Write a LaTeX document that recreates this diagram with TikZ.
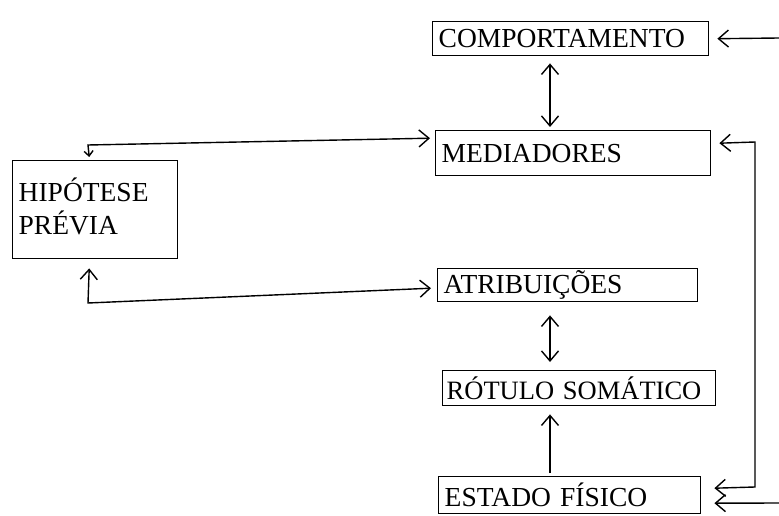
\documentclass[tikz,border=0pt]{standalone}
\usepackage{fontspec}
\setmainfont{Liberation Serif}
\usetikzlibrary{arrows.meta}

\begin{document}
\begin{tikzpicture}[x=1pt,y=-1pt,
  every node/.style={font=\fontsize{27.5}{33}\selectfont},
  caixa/.style={
    draw,
    line width=1.4pt,
    anchor=north west,
    align=left,
    inner xsep=6pt,
    inner ysep=0pt},
  seta/.style={line width=1.4pt,
    -{Straight Barb[length=10pt,width=17pt]}},
  seta2/.style={line width=1.4pt,
    {Straight Barb[length=10pt,width=17pt]}-{Straight Barb[length=10pt,width=17pt]}}
  ]
    \useasboundingbox (0,0) rectangle (779,516);
    % caixas
    \node[caixa, text width=264pt, minimum height=34pt] (comp) at (432,21) {COMPORTAMENTO};
    \node[caixa, text width=263pt, minimum height=45pt] (med) at (435,130) {MEDIADORES};
    \node[caixa, text width=248pt, minimum height=33pt] (atr) at (437,268) {ATRIBUIÇÕES};
    \node[caixa, text width=265pt, minimum height=35pt, inner xsep=4pt,
          font=\fontsize{26.5}{33}\selectfont] (rot) at (442,370) {RÓTULO SOMÁTICO};
    \node[caixa, text width=250pt, minimum height=37pt] (est) at (438,476) {ESTADO FÍSICO};
    \node[caixa, text width=153pt, minimum height=98pt, inner ysep=6pt,
          text depth=40pt] (hip) at (12,160) {HIPÓTESE\\PRÉVIA};
    % pontos auxiliares
    \coordinate (eixo) at (550,0);
    \coordinate (dir1) at (779,38);
    \coordinate (dir2) at (779,503);
    \coordinate (c1) at (88,145);
    \coordinate (c2) at (88,303);
    \coordinate (c3) at (755,142);
    \coordinate (c4) at (755,487);
    % setas verticais
    \draw[seta2, shorten <=7pt, shorten >=3pt] (comp.south -| eixo) -- (med.north -| eixo);
    \draw[seta2, shorten <=13pt, shorten >=8pt] (atr.south -| eixo) -- (rot.north -| eixo);
    \draw[seta, shorten <=3pt, shorten >=8pt] (est.north -| eixo) -- (rot.south -| eixo);
    % setas da direita
    \draw[seta] (dir1) -- ([xshift=8pt]comp.east);
    \draw[seta2] ([xshift=8pt,yshift=10pt]med.east) -- (c3) -- (c4) -- ([xshift=13pt,yshift=7pt]est.east);
    \draw[seta] (dir2) -- ([xshift=13pt,yshift=-8pt]est.east);
    % hipotese
    \draw[line width=1.4pt, {Straight Barb[length=5pt,width=9pt]}-{Straight Barb[length=10pt,width=17pt]}]
      ([xshift=-6pt,yshift=3pt]hip.north) -- (c1) -- ([xshift=-5pt,yshift=15pt]med.west);
    \draw[seta2] ([xshift=-6pt,yshift=-9pt]hip.south) -- (c2) -- ([xshift=-6pt,yshift=-3pt]atr.west);
\end{tikzpicture}
\end{document}
